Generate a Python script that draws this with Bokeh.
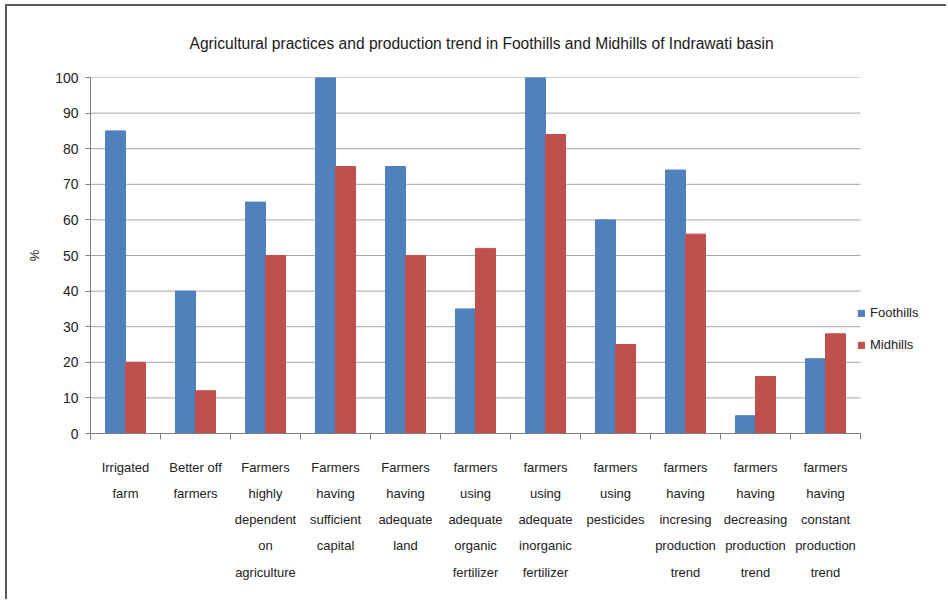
from bokeh.plotting import figure
from bokeh.models import (ColumnDataSource, Range1d, FixedTicker, Legend, LegendItem, Title)
from bokeh.transform import dodge
from bokeh.embed import file_html
from bokeh.resources import INLINE

categories = [
    "Irrigated\nfarm",
    "Better off\nfarmers",
    "Farmers\nhighly\ndependent\non\nagriculture",
    "Farmers\nhaving\nsufficient\ncapital",
    "Farmers\nhaving\nadequate\nland",
    "farmers\nusing\nadequate\norganic\nfertilizer",
    "farmers\nusing\nadequate\ninorganic\nfertilizer",
    "farmers\nusing\npesticides",
    "farmers\nhaving\nincresing\nproduction\ntrend",
    "farmers\nhaving\ndecreasing\nproduction\ntrend",
    "farmers\nhaving\nconstant\nproduction\ntrend",
]
foothills = [85, 40, 65, 100, 75, 35, 100, 60, 74, 5, 21]
midhills = [20, 12, 50, 75, 50, 52, 84, 25, 56, 16, 28]
y_ticks = [0, 10, 20, 30, 40, 50, 60, 70, 80, 90, 100]

FONT = "Liberation Sans"

n = len(categories)
centers = [i + 0.5 for i in range(n)]
source = ColumnDataSource(dict(x=centers, foothills=foothills, midhills=midhills))

# frame spans the full width to the right; categories occupy 770 of its 858 px
p = figure(width=941, height=595, output_backend="svg", toolbar_location=None,
           x_range=Range1d(0, n * 858 / 770), y_range=Range1d(0, 100),
           min_border_left=83, min_border_right=0, min_border_top=70, min_border_bottom=168)
p.styles = {"margin-left": "5px", "margin-top": "4px",
            "border-top": "2px solid #5a5a5a", "border-left": "2px solid #5a5a5a"}

p.title = Title(text="Agricultural practices and production trend in Foothills and Midhills of Indrawati basin",
                align="left", offset=99, text_font=FONT, text_font_size="15.6px", text_font_style="normal",
                text_color="#1a1a1a", standoff=52)

# horizontal grid lines limited to the category extent
p.segment(x0=0, x1=n, y0=y_ticks, y1=y_ticks, line_color="#a6a6a6", line_width=1)

bw = 0.286
r1 = p.vbar(x=dodge("x", -bw / 2, range=p.x_range), top="foothills", width=bw, source=source,
            fill_color="#4F81BD", line_color="#4F81BD")
r2 = p.vbar(x=dodge("x", bw / 2, range=p.x_range), top="midhills", width=bw, source=source,
            fill_color="#C0504D", line_color="#C0504D")

# x axis: labels at centers, ticks at category boundaries
xa = p.xaxis[0]
xa.bounds = (0, n)
xa.ticker = FixedTicker(ticks=centers, minor_ticks=list(range(n + 1)))
xa.major_label_overrides = {c: lab for c, lab in zip(centers, categories)}
xa.major_tick_line_color = None
xa.minor_tick_in = 0
xa.minor_tick_out = 6
xa.minor_tick_line_color = "#7f7f7f"
xa.axis_line_color = "#7f7f7f"
xa.major_label_text_font = FONT
xa.major_label_text_font_size = "13px"
xa.major_label_text_color = "#222222"
xa.major_label_text_line_height = 1.75
xa.major_label_standoff = 20

ya = p.yaxis[0]
ya.ticker = FixedTicker(ticks=y_ticks)
ya.minor_tick_line_color = None
ya.major_tick_in = 0
ya.major_tick_out = 5
ya.major_tick_line_color = "#7f7f7f"
ya.axis_line_color = "#7f7f7f"
ya.major_label_text_font = FONT
ya.major_label_text_font_size = "14px"
ya.major_label_text_color = "#222222"
ya.major_label_standoff = 7
ya.axis_label = "%"
ya.axis_label_text_font = FONT
ya.axis_label_text_font_size = "13px"
ya.axis_label_text_font_style = "normal"
ya.axis_label_text_color = "#222222"
ya.axis_label_standoff = 10

p.xgrid.visible = False
p.ygrid.visible = False
p.outline_line_color = None

legend = Legend(items=[LegendItem(label="Foothills", renderers=[r1]),
                       LegendItem(label="Midhills", renderers=[r2])],
                location=(767, 81), orientation="vertical",
                glyph_width=8, glyph_height=8, label_standoff=5, spacing=17,
                padding=0, margin=0, border_line_color=None, background_fill_alpha=0,
                label_text_font=FONT, label_text_font_size="13px", label_text_color="#222222")
p.add_layout(legend)

open("out.html", "w").write(file_html(p, INLINE))
